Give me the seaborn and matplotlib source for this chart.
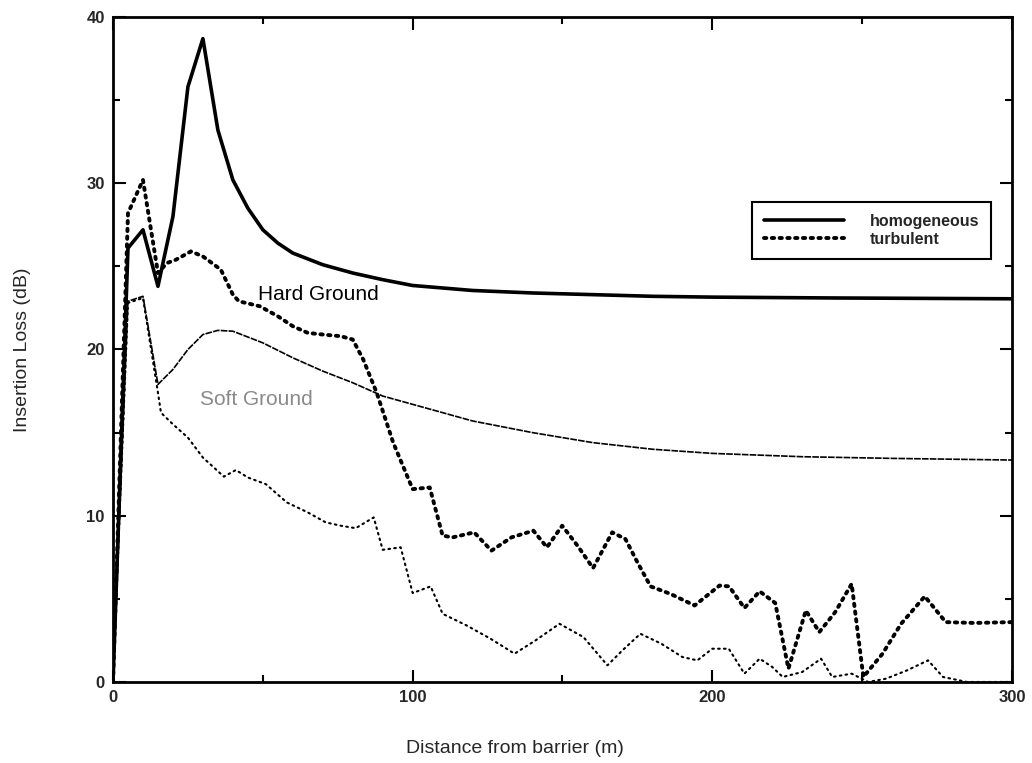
import matplotlib
matplotlib.use("Agg")
import matplotlib.pyplot as plt
import seaborn as sns

# hard ground, homogeneous atmosphere (solid, thick)
hard_homog_x = [0, 5, 10, 15, 20, 25, 30, 35, 40, 45, 50, 55, 60, 70, 80, 90, 100,
                120, 140, 160, 180, 200, 240, 300]
hard_homog_y = [0, 26.1, 27.2, 23.8, 28.0, 35.8, 38.7, 33.2, 30.2, 28.5, 27.2, 26.4,
                25.8, 25.1, 24.6, 24.2, 23.85, 23.55, 23.4, 23.3, 23.2, 23.15, 23.1, 23.05]

# hard ground, turbulent atmosphere (dotted, thick)
hard_turb_x = [0, 5, 10, 15, 18, 21, 26, 30, 36, 40, 42, 49, 55, 60, 65, 70, 76, 80,
               83.5, 88, 93.5, 100, 105.7, 110, 113.4, 120.5, 126.3, 133, 140.3, 144.8,
               149.9, 155, 160.2, 166.6, 171, 175, 179.4, 186, 194.1, 202.4, 205.6,
               210.7, 215.8, 221, 225.4, 231.2, 235.7, 241, 246.5, 250.4, 256.8, 263,
               270.9, 277.9, 287.5, 300]
hard_turb_y = [0, 28.2, 30.2, 24.6, 25.2, 25.4, 25.9, 25.6, 24.8, 23.3, 22.9, 22.6,
               22.0, 21.4, 21.0, 20.9, 20.8, 20.6, 19.4, 17.4, 14.4, 11.6, 11.7, 8.8,
               8.7, 9.0, 7.9, 8.7, 9.1, 8.1, 9.4, 8.2, 6.85, 9.0, 8.6, 7.2, 5.75, 5.3,
               4.6, 5.8, 5.75, 4.45, 5.45, 4.75, 0.8, 4.3, 3.0, 4.2, 5.9, 0.3, 1.7, 3.5,
               5.15, 3.6, 3.55, 3.6]

# soft ground, homogeneous atmosphere (thin line)
soft_homog_x = [0, 5, 10, 15, 20, 25, 30, 35, 40, 50, 60, 70, 80, 90, 100, 110, 120,
                140, 160, 180, 200, 230, 260, 300]
soft_homog_y = [0, 22.9, 23.2, 17.9, 18.8, 20.0, 20.9, 21.15, 21.1, 20.4, 19.5, 18.7,
                18.0, 17.2, 16.7, 16.2, 15.7, 15.0, 14.4, 14.0, 13.75, 13.55, 13.45, 13.35]

# soft ground, turbulent atmosphere (thin dotted)
soft_turb_x = [0, 5, 10, 15, 16, 20, 25, 30, 37, 41, 45, 51, 58, 65, 71, 76, 81, 87,
               90, 96, 100, 106, 110, 118, 126, 134, 141, 149, 157, 165, 170, 176, 183,
               190, 195, 200, 205.5, 210.7, 215.8, 220, 223.5, 230, 236.3, 240, 246.5,
               252, 258, 265, 272, 277, 285, 300]
soft_turb_y = [0, 22.8, 23.1, 17.4, 16.2, 15.5, 14.7, 13.5, 12.35, 12.75, 12.3, 11.9,
               10.8, 10.2, 9.6, 9.4, 9.25, 9.9, 7.95, 8.1, 5.35, 5.75, 4.1, 3.4, 2.6,
               1.7, 2.5, 3.5, 2.7, 1.0, 1.9, 2.9, 2.3, 1.5, 1.3, 2.0, 2.0, 0.5, 1.4, 0.9,
               0.3, 0.6, 1.4, 0.3, 0.5, 0.0, 0.2, 0.7, 1.3, 0.3, 0.0, 0.0]

legend_labels = ["homogeneous", "turbulent"]

sns.set_theme(style="ticks")
plt.rcParams["font.family"] = ["Liberation Sans", "DejaVu Sans"]

fig = plt.figure(figsize=(10.32, 7.63), dpi=100)
ax = fig.add_axes([0.1095, 0.1062, 0.8711, 0.8715])

sns.lineplot(x=hard_homog_x, y=hard_homog_y, ax=ax, color="black", lw=2.6,
             sort=False, estimator=None)
sns.lineplot(x=hard_turb_x, y=hard_turb_y, ax=ax, color="black", lw=2.8,
             linestyle=(0, (0.6, 1.4)), dash_capstyle="round", sort=False, estimator=None)
sns.lineplot(x=soft_homog_x, y=soft_homog_y, ax=ax, color="black", lw=1.2,
             linestyle=(0, (4, 0.7)), sort=False, estimator=None)
sns.lineplot(x=soft_turb_x, y=soft_turb_y, ax=ax, color="black", lw=1.5,
             linestyle=(0, (0.8, 2)), dash_capstyle="round", sort=False, estimator=None)

ax.set_xlim(0, 300)
ax.set_ylim(0, 40)
ax.set_xticks([0, 100, 200, 300])
ax.set_xticks([50, 150, 250], minor=True)
ax.set_yticks([0, 10, 20, 30, 40])
ax.set_yticks([5, 15, 25, 35], minor=True)
ax.tick_params(which="both", direction="in", top=True, right=True, width=1.5,
               color="black", labelsize=12, pad=6)
ax.tick_params(which="major", length=9)
ax.tick_params(which="minor", length=5)
for lab in ax.get_xticklabels() + ax.get_yticklabels():
    lab.set_fontweight("bold")
for sp in ax.spines.values():
    sp.set_linewidth(2)
    sp.set_color("black")

ax.set_xlabel("Distance from barrier (m)", fontsize=14)
ax.set_ylabel("Insertion Loss (dB)", fontsize=14)
ax.xaxis.set_label_coords(0.447, -0.1008)
ax.xaxis.label.set_va("center")
ax.yaxis.set_label_coords(-0.1012, 0.499)
ax.yaxis.label.set_va("center")

ax.text(48.4, 23.3, "Hard Ground", fontsize=15, color="black", ha="left", va="center")
ax.text(29.0, 17.0, "Soft Ground", fontsize=15, color="#8a8a8a", ha="left", va="center")

leg = ax.legend(handles=[ax.lines[0], ax.lines[1]], labels=legend_labels,
                loc="upper left", bbox_to_anchor=(0.711, 0.722), borderaxespad=0,
                fancybox=False, frameon=True, edgecolor="black", framealpha=1,
                prop={"weight": "bold", "size": 11.5}, handlelength=5.0,
                handletextpad=1.6, labelspacing=0.2, borderpad=0.75)
leg.get_frame().set_linewidth(1.5)

fig.savefig("out.png", dpi=100)
